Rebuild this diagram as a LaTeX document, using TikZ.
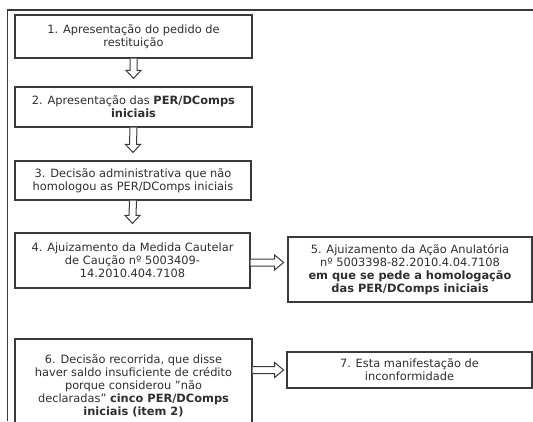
\documentclass[tikz,border=0pt]{standalone}
\usepackage{fontspec}
\setmainfont{DejaVu Sans}
\usetikzlibrary{calc}
\definecolor{ln}{HTML}{3A3A3A}
\definecolor{tx}{HTML}{2E2E2E}
\tikzset{
  box/.style={draw=ln, line width=1.2pt, rectangle, inner sep=0pt, align=center,
    text=tx, font=\fontsize{11.4}{13.2}\selectfont},
  harr/.style={draw=ln, line width=1pt, fill=white, line join=miter},
  frame/.style={draw=ln, line width=1.3pt}
}
\newcommand\darrow[2]{%
  \draw[harr] ($(#1)+(-3.5,0)$) -- ($(#2)+(-3.5,-8)$) -- ($(#2)+(-7.5,-8)$) -- (#2)
    -- ($(#2)+(7.5,-8)$) -- ($(#2)+(3.5,-8)$) -- ($(#1)+(3.5,0)$);}
\newcommand\rarrow[2]{%
  \draw[harr] ($(#1)+(0,-3.5)$) -- ($(#2)+(-9,-3.5)$) -- ($(#2)+(-9,-7.5)$) -- (#2)
    -- ($(#2)+(-9,7.5)$) -- ($(#2)+(-9,3.5)$) -- ($(#1)+(0,3.5)$);}
\begin{document}
\begin{tikzpicture}[x=1pt,y=-1pt]
\useasboundingbox (0,0) rectangle (533,421);
\begin{scope}
\clip (0,0) rectangle (533,421);
\coordinate (fl) at (7.5,421);
\coordinate (ftl) at (7.5,10);
\coordinate (ftr) at (533,10);
\draw[frame] (fl) -- (ftl) -- (ftr);

\node[box, minimum width=237, minimum height=43] (b1) at (133.5,36.5)
  {1. Apresentação do pedido de\\restituição};
\node[box, minimum width=237, minimum height=40] (b2) at (133.5,107)
  {2. Apresentação das \textbf{PER/DComps}\\\textbf{iniciais}};
\node[box, minimum width=236, minimum height=39] (b3) at (133,180.5)
  {3. Decisão administrativa que não\\homologou as PER/DComps iniciais};
\node[box, minimum width=235, minimum height=55] (b4) at (132.5,260.5)
  {4. Ajuizamento da Medida Cautelar\\de Caução nº 5003409-\\14.2010.404.7108};
\node[box, minimum width=244, minimum height=65] (b5) at (410,269.5)
  {5. Ajuizamento da Ação Anulatória\\nº 5003398-82.2010.4.04.7108\\\textbf{em que se pede a homologação}\\\textbf{das PER/DComps iniciais}};
\node[box, minimum width=237, minimum height=92, text depth=0pt] (b6) at (133.5,385)
  {6. Decisão recorrida, que disse\\haver saldo insuficiente de crédito\\porque considerou \symbol{34}não\\declaradas\symbol{34} \textbf{cinco PER/DComps}\\\textbf{iniciais (item 2)}};
\node[box, minimum width=245, minimum height=36] (b7) at (409.5,370)
  {7. Esta manifestação de\\inconformidade};

\coordinate (t2) at ($(b2.north)+(0,-8)$);
\coordinate (t3) at ($(b3.north)+(0,-8)$);
\coordinate (t4) at ($(b4.north)+(0,-9)$);
\coordinate (t5) at ($(b4.east)+(33,2)$);
\coordinate (t7) at ($(b6.east |- b7.west)+(31,0)$);
\coordinate (s7) at (b6.east |- b7.west);
\darrow{b1.south}{t2}
\darrow{b2.south}{t3}
\darrow{b3.south}{t4}
\rarrow{$(b4.east)+(0,2)$}{t5}
\rarrow{s7}{t7}
\end{scope}
\end{tikzpicture}
\end{document}
